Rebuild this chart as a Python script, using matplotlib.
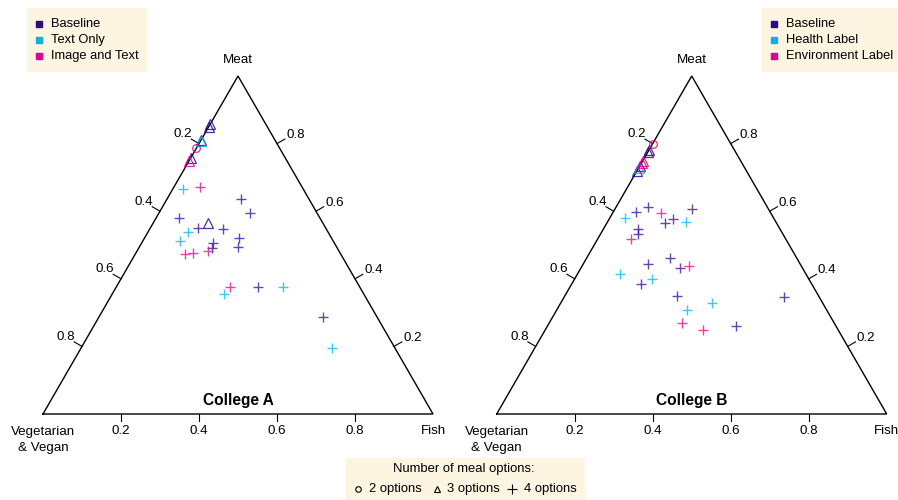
import numpy as np
import matplotlib
matplotlib.use("Agg")
import matplotlib.pyplot as plt
from matplotlib.patches import Rectangle

plt.rcParams['font.family'] = ['Liberation Sans', 'DejaVu Sans']

H = np.sqrt(3) / 2

# compositions (vegetarian & vegan, fish, meat)
a_baseline = [(0.142, 0, 0.858), (0.151, 0, 0.849), (0.189, 0, 0.811), (0.243, 0, 0.757),
              (0.294, 0.141, 0.565),
              (0.174, 0.190, 0.636), (0.172, 0.233, 0.595), (0.361, 0.059, 0.580),
              (0.328, 0.122, 0.550), (0.265, 0.188, 0.547), (0.237, 0.242, 0.521),
              (0.253, 0.253, 0.494), (0.311, 0.183, 0.506), (0.321, 0.188, 0.491),
              (0.261, 0.363, 0.376), (0.139, 0.574, 0.287)]
a_baseline_n = [3, 3, 3, 3, 3] + [4] * 11

a_text = [(0.192, 0, 0.808),
          (0.308, 0.026, 0.666), (0.359, 0.103, 0.538), (0.393, 0.095, 0.512),
          (0.358, 0.287, 0.355), (0.197, 0.427, 0.376), (0.162, 0.643, 0.195)]
a_text_n = [3] + [4] * 6

a_image = [(0.213, 0, 0.787), (0.251, 0, 0.749),
           (0.261, 0.067, 0.672), (0.336, 0.182, 0.482), (0.378, 0.146, 0.476),
           (0.400, 0.127, 0.473), (0.332, 0.292, 0.376)]
a_image_n = [2, 3] + [4] * 5

b_baseline = [(0.219, 0, 0.781), (0.225, 0, 0.775), (0.266, 0, 0.734), (0.281, 0, 0.719),
              (0.344, 0.058, 0.598), (0.306, 0.082, 0.612), (0.196, 0.197, 0.607),
              (0.259, 0.164, 0.577), (0.286, 0.149, 0.565), (0.364, 0.089, 0.547),
              (0.371, 0.096, 0.533), (0.324, 0.214, 0.462), (0.390, 0.166, 0.444),
              (0.314, 0.254, 0.432), (0.437, 0.178, 0.385), (0.363, 0.288, 0.349),
              (0.257, 0.483, 0.260), (0.090, 0.564, 0.346)]
b_baseline_n = [3, 3, 3, 3] + [4] * 14

b_health = [(0.272, 0, 0.728),
            (0.381, 0.039, 0.580), (0.231, 0.201, 0.568), (0.477, 0.109, 0.414),
            (0.403, 0.198, 0.399), (0.284, 0.388, 0.328), (0.358, 0.334, 0.308)]
b_health_n = [3] + [4] * 6

b_env = [(0.201, 0, 0.799), (0.251, 0, 0.749), (0.257, 0, 0.743),
         (0.281, 0.124, 0.595), (0.397, 0.085, 0.518), (0.288, 0.274, 0.438),
         (0.390, 0.341, 0.269), (0.346, 0.405, 0.249)]
b_env_n = [2, 3, 3] + [4] * 5

ticks = [0.2, 0.4, 0.6, 0.8]
colors = ['#2e0a91', '#00b4f0', '#e6008b']
markers = {2: 'o', 3: '^', 4: '+'}

a_labels = ['Baseline', 'Text Only', 'Image and Text']
b_labels = ['Baseline', 'Health Label', 'Environment Label']


def tern(comp):
    c = np.asarray(comp, dtype=float)
    c = c / c.sum(axis=1, keepdims=True)
    return c[:, 1] + c[:, 2] / 2, c[:, 2] * H


fig = plt.figure(figsize=(8.98, 5), dpi=100)
PX = 390.0  # pixels per ternary unit


def panel(left, title, series):
    ax = fig.add_axes([left / 898, 86 / 500, 390 / 898, 338 / 500])
    ax.set_xlim(0, 1)
    ax.set_ylim(0, H)
    ax.axis('off')
    ax.plot([0, 1, 0.5, 0], [0, 0, H, 0], color='black', lw=1.0,
            clip_on=False, solid_joinstyle='miter')
    L = 9 / PX
    c30, s30 = np.cos(np.pi / 6), np.sin(np.pi / 6)
    for t in ticks:
        # left edge: vegetarian share
        x0, y0 = (1 - t) / 2, (1 - t) * H
        x1, y1 = x0 - c30 * L, y0 + s30 * L
        ax.plot([x0, x1], [y0, y1], color='black', lw=0.8, clip_on=False)
        ax.text(x1 + 1 / PX, y1 + 5 / PX, f'{t:.1f}', ha='right', va='center',
                fontsize=9.6)
        # right edge: meat share
        x0, y0 = 1 - t / 2, t * H
        x1, y1 = x0 + c30 * L, y0 + s30 * L
        ax.plot([x0, x1], [y0, y1], color='black', lw=0.8, clip_on=False)
        ax.text(x1 + 1.5 / PX, y1 + 4 / PX, f'{t:.1f}', ha='left', va='center',
                fontsize=9.6)
        # bottom edge: fish share
        ax.plot([t, t], [0, -7 / PX], color='black', lw=0.8, clip_on=False)
        ax.text(t, -17 / PX, f'{t:.1f}', ha='center', va='center', fontsize=9.6)
    ax.text(0.5, H + 16 / PX, 'Meat', ha='center', va='center', fontsize=9.6)
    ax.text(1.0, -17 / PX, 'Fish', ha='center', va='center', fontsize=9.6)
    ax.text(0.0, -26 / PX, 'Vegetarian\n& Vegan', ha='center', va='center',
            fontsize=9.6, linespacing=1.35)
    ax.text(0.5, 13 / PX, title, ha='center', va='center', fontsize=11.2,
            fontweight='bold')
    for (comp, nopt), col in zip(series, colors):
        xs, ys = tern(comp)
        nopt = np.asarray(nopt)
        for n, mk in markers.items():
            sel = nopt == n
            if not sel.any():
                continue
            if mk == '+':
                ax.plot(xs[sel], ys[sel], ls='none', marker='+', ms=7.5, mew=1.0,
                        color=col, alpha=0.75, clip_on=False)
            else:
                ax.plot(xs[sel], ys[sel], ls='none', marker=mk, ms=5.5 if mk == 'o' else 6.5,
                        mew=0.9, mfc='none', mec=col, alpha=0.85, clip_on=False)
    return ax


panel(43, 'College A', [(a_baseline, a_baseline_n), (a_text, a_text_n), (a_image, a_image_n)])
panel(496.7, 'College B', [(b_baseline, b_baseline_n), (b_health, b_health_n), (b_env, b_env_n)])

# legend boxes, drawn in pixel space
lg = fig.add_axes([0, 0, 1, 1], zorder=-1)
lg.set_xlim(0, 898)
lg.set_ylim(500, 0)
lg.axis('off')
cream = '#fdf4e1'


def key_box(x, labels):
    lg.add_patch(Rectangle((x, 8), 140, 64, facecolor=cream, edgecolor='none'))
    for i, (lab, col) in enumerate(zip(labels, colors)):
        yy = 24 + 16 * i
        lg.plot([x + 12], [yy], marker='s', ms=4.6, color=col, ls='none')
        lg.text(x + 24, yy, lab, ha='left', va='center', fontsize=9.3)


lg.add_patch(Rectangle((27, 8), 120, 64, facecolor=cream, edgecolor='none'))
for i, (lab, col) in enumerate(zip(a_labels, colors)):
    yy = 24 + 16 * i
    lg.plot([39], [yy], marker='s', ms=4.6, color=col, ls='none')
    lg.text(51, yy, lab, ha='left', va='center', fontsize=9.3)
key_box(762, b_labels)

lg.add_patch(Rectangle((346, 458), 239, 45, facecolor=cream, edgecolor='none'))
lg.text(464, 469, 'Number of meal options:', ha='center', va='center', fontsize=9.4)
row = [(357.5, 'o', 4.0, 369, '2 options'), (437, '^', 4.8, 447, '3 options'),
       (512, '+', 7.0, 524, '4 options')]
for mx, mk, ms, tx, lab in row:
    lg.plot([mx], [489], marker=mk, ms=ms, mfc='none', mec='black', mew=0.8,
            color='black', ls='none')
    lg.text(tx, 489, lab, ha='left', va='center', fontsize=9.4)

fig.savefig('out.png', dpi=100)
